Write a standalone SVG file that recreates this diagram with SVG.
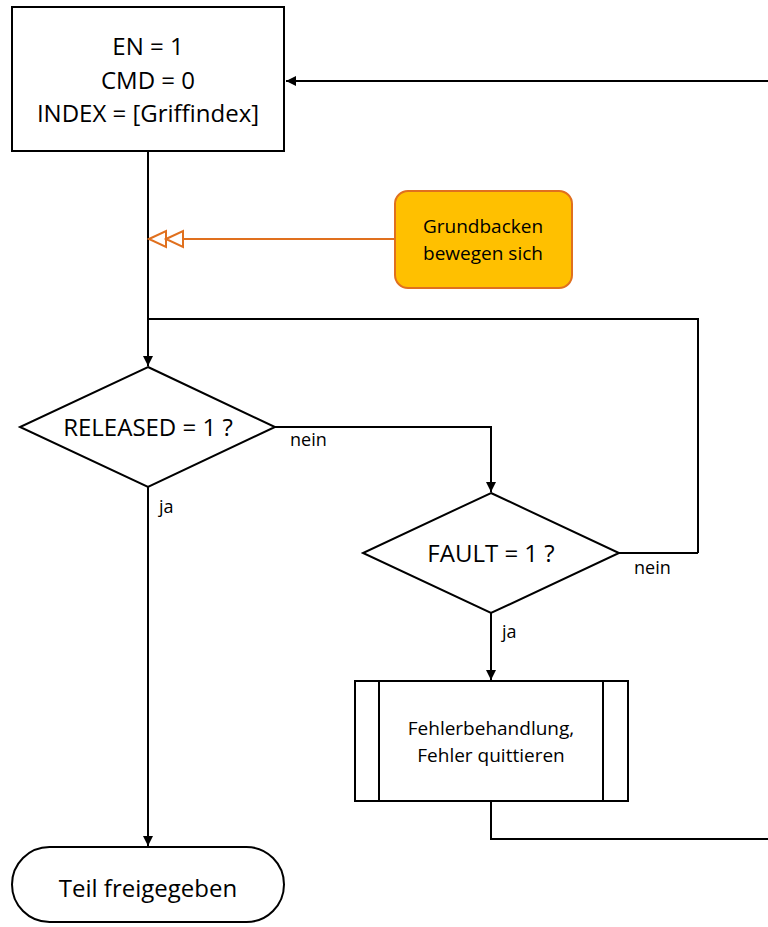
<svg xmlns="http://www.w3.org/2000/svg" width="768" height="927" viewBox="0 0 768 927">
<defs>
<style>
.n{fill:#fff;stroke:#000;stroke-width:2}
.t{font-family:"Open Sans","Liberation Sans",sans-serif;fill:#000;text-anchor:middle}
.c{fill:none;stroke:#000;stroke-width:2}
.o{fill:none;stroke:#E0701E;stroke-width:2}
.l{font-family:"Open Sans","Liberation Sans",sans-serif;font-size:18px;fill:#000}
</style>
<marker id="ah" markerWidth="10" markerHeight="10" refX="10" refY="5" orient="auto" markerUnits="userSpaceOnUse" viewBox="0 0 10 10">
<path d="M0,0 L10,5 L0,10 Z" fill="#000"/>
</marker>
</defs>
<rect width="768" height="927" fill="#fff"/>
<g id="connectors">
<path class="c" d="M768,81 H286" marker-end="url(#ah)"/>
<path class="c" d="M148,151 V366" marker-end="url(#ah)"/>
<path class="c" d="M698,553 V319 H148"/>
<path class="c" d="M275,427 H491 V492" marker-end="url(#ah)"/>
<path class="c" d="M148,487 V846" marker-end="url(#ah)"/>
<path class="c" d="M619,553 H698"/>
<path class="c" d="M491,613 V680" marker-end="url(#ah)"/>
<path class="c" d="M491,801 V839 H768"/>
<path class="o" d="M183,239 H395"/>
<path class="o" d="M149,239 L166,231 V247 Z M166,239 L183,231 V247 Z" fill="#fff"/>
<text class="l" x="290" y="446">nein</text>
<text class="l" x="159" y="513">ja</text>
<text class="l" x="634" y="574">nein</text>
<text class="l" x="502" y="638">ja</text>
</g>
<g id="init">
<rect class="n" x="12" y="7" width="272" height="144"/>
<text class="t" font-size="24" x="148" y="55">EN = 1</text>
<text class="t" font-size="24" x="148" y="89">CMD = 0</text>
<text class="t" font-size="24" x="148" y="122">INDEX = [Griffindex]</text>
</g>
<g id="note">
<rect x="395" y="191" width="177" height="97" rx="13" ry="13" fill="#FFC000" stroke="#E0701E" stroke-width="2"/>
<text class="t" font-size="19" x="483" y="233">Grundbacken</text>
<text class="t" font-size="19" x="483" y="260">bewegen sich</text>
</g>
<g id="released">
<path class="n" d="M148,367 L275,427 L148,487 L20,427 Z"/>
<text class="t" font-size="24" x="148" y="436">RELEASED = 1 ?</text>
</g>
<g id="fault">
<path class="n" d="M491,493 L619,553 L491,613 L363,553 Z"/>
<text class="t" font-size="24" x="491" y="562">FAULT = 1 ?</text>
</g>
<g id="fehler">
<rect class="n" x="355" y="681" width="273" height="120"/>
<path class="c" d="M379,681 V801 M603,681 V801"/>
<text class="t" font-size="19" x="491" y="735">Fehlerbehandlung,</text>
<text class="t" font-size="19" x="491" y="762">Fehler quittieren</text>
</g>
<g id="ende">
<rect class="n" x="12" y="847" width="272" height="75" rx="37.5" ry="37.5"/>
<text class="t" font-size="24" x="148" y="897">Teil freigegeben</text>
</g>
</svg>
